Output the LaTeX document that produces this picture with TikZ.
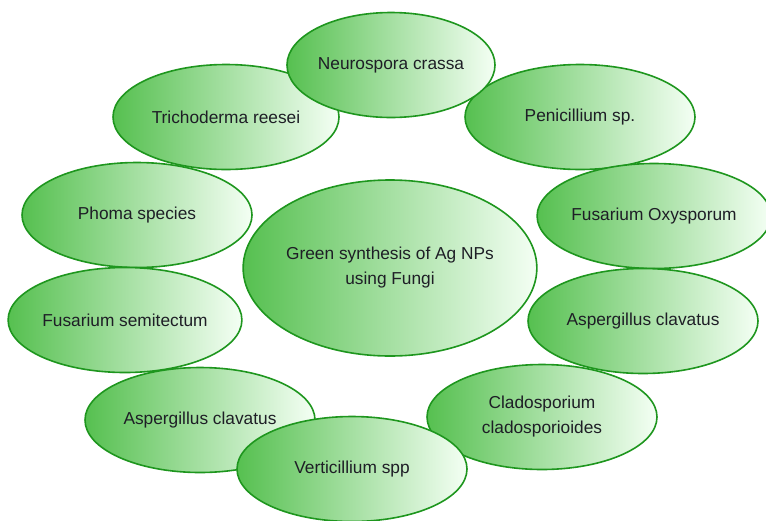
\documentclass[tikz,border=0pt]{standalone}
\usepackage{fontspec}
\setmainfont{Liberation Sans}
\usepackage{xcolor}
\usepackage{tikz}
\usetikzlibrary{shapes.geometric}
\definecolor{fungleft}{RGB}{86,192,80}
\definecolor{fungmid}{RGB}{122,208,128}
\definecolor{fungright}{RGB}{244,255,244}
\definecolor{fungline}{RGB}{30,150,30}
\definecolor{fungtext}{RGB}{30,30,38}

\begin{document}
\begin{tikzpicture}[x=1pt, y=-1pt,
  fungus/.style={ellipse, draw=fungline, line width=1.6pt, inner sep=0pt,
                 left color=fungleft, middle color=fungmid, right color=fungright,
                 minimum width=230pt, minimum height=105pt, align=center,
                 text=fungtext, font=\fontsize{17.3pt}{25pt}\selectfont}]
  \useasboundingbox (0,0) rectangle (766,520);
  % centre
  \node[fungus, minimum width=256pt, minimum height=176pt] (hub) at (390,268)
    {Green synthesis of Ag NPs\\ using Fungi};
  % ring of species
  \node[fungus, minimum width=226pt] (tricho) at (226,117) {Trichoderma reesei};
  \node[fungus] (penic) at (580,117) {Penicillium sp.};
  \node[fungus] (phoma) at (137,215) {Phoma species};
  \node[fungus, minimum width=224pt] (fusox) at (654,216) {Fusarium Oxysporum};
  \node[fungus] (fussemi) at (125,320) {Fusarium semitectum};
  \node[fungus] (asperR) at (643,321) {Aspergillus clavatus};
  \node[fungus] (asperL) at (200,420) {Aspergillus clavatus};
  \node[fungus] (clado) at (542,417) {Cladosporium\\ cladosporioides};
  \node[fungus] (vertic) at (352,469) {Verticillium spp};
  \node[fungus, minimum width=208pt] (neuro) at (391,65) {Neurospora crassa};
\end{tikzpicture}
\end{document}
